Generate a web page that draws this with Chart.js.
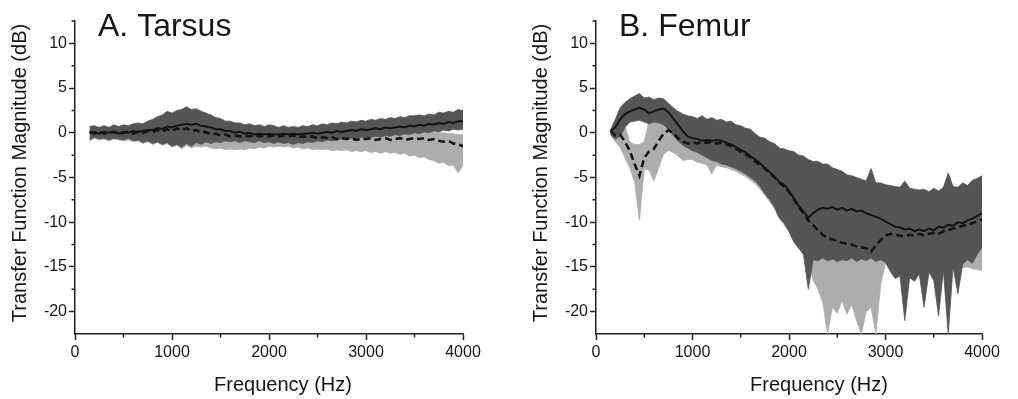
<!DOCTYPE html>
<html>
<head>
<meta charset="utf-8">
<title>Transfer function magnitude - tarsus and femur</title>
<script src="https://cdn.jsdelivr.net/npm/chart.js@4.4.1/dist/chart.umd.min.js"></script>
<style>
  html, body { margin: 0; padding: 0; background: #fff; }
  #wrap { position: relative; width: 1018px; height: 399px; overflow: hidden; }
  canvas { position: absolute; top: 0; }
  #chartTarsus { left: 0; }
  #chartFemur { left: 509px; }
</style>
</head>
<body>
<div id="wrap">
  <canvas id="chartTarsus" width="509" height="399"></canvas>
  <canvas id="chartFemur" width="509" height="399"></canvas>
</div>
<script>
Chart.defaults.font.family = "'Liberation Sans', Arial, sans-serif";
Chart.defaults.color = "#111";

const FONT = "'Liberation Sans', Arial, sans-serif";

// x grid, Hz
const freqHz = [
  150, 200, 250, 300, 350, 400, 450, 500, 550, 600,
  650, 700, 750, 800, 850, 900, 950, 1000, 1050, 1100,
  1150, 1200, 1250, 1300, 1350, 1400, 1450, 1500, 1550, 1600,
  1650, 1700, 1750, 1800, 1850, 1900, 1950, 2000, 2050, 2100,
  2150, 2200, 2250, 2300, 2350, 2400, 2450, 2500, 2550, 2600,
  2650, 2700, 2750, 2800, 2850, 2900, 2950, 3000, 3050, 3100,
  3150, 3200, 3250, 3300, 3350, 3400, 3450, 3500, 3550, 3600,
  3650, 3700, 3750, 3800, 3850, 3900, 3950, 4000
];

const xTicksHz = [0, 1000, 2000, 3000, 4000];
const xMinorHz = [500, 1500, 2500, 3500];
const yTicksDb = [-20, -15, -10, -5, 0, 5, 10];
const yMinorDb = [-17.5, -12.5, -7.5, -2.5, 2.5, 7.5, 12.5];

const panelTitles = ["A. Tarsus", "B. Femur"];
const xTitle = "Frequency (Hz)";
const yTitle = "Transfer Function Magnitude (dB)";

// ---- A. Tarsus (dB) ----
const tarsusSolid = [
  0.0, 0.1, -0.1, 0.1, 0.0, 0.1, -0.1, 0.1, 0.0, 0.2,
  0.1, 0.2, 0.3, 0.3, 0.5, 0.4, 0.7, 0.6, 0.8, 0.9,
  1.0, 0.9, 1.0, 0.8, 0.7, 0.6, 0.4, 0.4, 0.2, 0.2,
  0.0, 0.1, -0.1, 0.0, -0.2, -0.1, -0.2, -0.1, -0.2, -0.2,
  -0.1, -0.2, -0.1, -0.2, -0.1, -0.1, 0.0, -0.1, 0.0, 0.1,
  0.0, 0.2, 0.1, 0.2, 0.3, 0.2, 0.4, 0.3, 0.4, 0.5,
  0.4, 0.6, 0.5, 0.6, 0.7, 0.6, 0.8, 0.7, 0.9, 0.8,
  1.0, 0.9, 1.1, 1.0, 1.2, 1.1, 1.3, 1.3
];
const tarsusDashed = [
  0.1, -0.1, 0.1, -0.1, 0.0, 0.1, -0.1, 0.0, 0.1, -0.1,
  0.1, 0.0, 0.2, 0.1, 0.3, 0.1, 0.4, 0.2, 0.5, 0.3,
  0.5, 0.2, 0.3, 0.0, 0.1, -0.2, -0.1, -0.3, -0.2, -0.4,
  -0.3, -0.4, -0.3, -0.4, -0.3, -0.4, -0.3, -0.4, -0.3, -0.4,
  -0.3, -0.4, -0.3, -0.5, -0.4, -0.5, -0.4, -0.6, -0.5, -0.6,
  -0.5, -0.7, -0.6, -0.7, -0.6, -0.8, -0.7, -0.7, -0.6, -0.8,
  -0.7, -0.6, -0.8, -0.7, -0.6, -0.8, -0.7, -0.6, -0.7, -0.6,
  -0.8, -0.7, -0.9, -1.0, -0.9, -1.2, -1.3, -1.5
];
const tarsusDarkHi = [
  0.7, 0.8, 0.6, 0.8, 0.6, 0.9, 0.7, 0.9, 0.8, 1.0,
  1.1, 1.0, 1.3, 1.5, 1.8, 2.0, 2.4, 2.2, 2.5, 2.6,
  2.9, 2.6, 2.7, 2.4, 2.2, 2.0, 1.7, 1.6, 1.3, 1.3,
  1.1, 1.1, 0.9, 1.0, 0.8, 0.9, 0.7, 0.9, 0.8, 0.6,
  0.8, 0.6, 0.7, 0.6, 0.8, 0.7, 0.9, 0.8, 1.0, 0.9,
  1.1, 1.0, 1.2, 1.1, 1.3, 1.2, 1.4, 1.3, 1.5, 1.4,
  1.6, 1.5, 1.7, 1.6, 1.8, 1.7, 1.9, 1.9, 2.0, 1.9,
  2.1, 2.0, 2.3, 2.2, 2.4, 2.3, 2.6, 2.5
];
const tarsusDarkLo = [
  -0.8, -0.5, -0.7, -0.6, -0.8, -0.6, -0.7, -0.8, -0.6, -0.9,
  -0.8, -1.1, -0.9, -1.2, -1.0, -1.3, -1.1, -1.5, -1.3, -1.6,
  -1.2, -1.5, -1.1, -1.3, -1.0, -1.2, -1.0, -1.1, -0.9, -1.0,
  -0.9, -1.1, -0.9, -1.0, -1.1, -0.9, -1.1, -1.0, -1.2, -1.0,
  -1.2, -1.1, -1.3, -1.1, -1.2, -1.0, -1.1, -0.9, -1.0, -0.8,
  -0.9, -0.8, -0.7, -0.8, -0.6, -0.7, -0.5, -0.6, -0.5, -0.4,
  -0.5, -0.3, -0.4, -0.2, -0.3, -0.1, -0.2, 0.0, -0.1, 0.1,
  0.0, 0.2, 0.1, 0.3, 0.2, 0.4, 0.3, 0.4
];
const tarsusLightHi = [
  0.6, 0.5, 0.6, 0.5, 0.6, 0.6, 0.5, 0.6, 0.6, 0.6,
  0.7, 0.7, 0.9, 1.0, 1.2, 1.2, 1.5, 1.4, 1.6, 1.5,
  1.6, 1.4, 1.3, 1.1, 1.0, 0.8, 0.7, 0.5, 0.5, 0.4,
  0.4, 0.3, 0.3, 0.3, 0.3, 0.3, 0.3, 0.3, 0.3, 0.3,
  0.3, 0.3, 0.3, 0.2, 0.3, 0.2, 0.3, 0.2, 0.2, 0.2,
  0.2, 0.1, 0.2, 0.1, 0.2, 0.1, 0.1, 0.1, 0.2, 0.1,
  0.1, 0.2, 0.1, 0.1, 0.2, 0.1, 0.1, 0.2, 0.1, 0.2,
  0.1, 0.1, 0.0, 0.0, -0.1, -0.1, -0.2, -0.2
];
const tarsusLightLo = [
  -0.9, -0.6, -0.8, -0.7, -0.9, -0.7, -0.8, -0.9, -0.8, -1.0,
  -0.9, -1.2, -1.0, -1.3, -1.1, -1.4, -1.2, -1.6, -1.4, -1.8,
  -1.4, -1.7, -1.5, -1.6, -1.5, -1.7, -1.8, -1.7, -1.9, -1.8,
  -1.9, -1.8, -1.9, -1.7, -1.8, -1.6, -1.7, -1.5, -1.6, -1.5,
  -1.6, -1.5, -1.7, -1.6, -1.8, -1.7, -1.9, -1.8, -1.9, -1.8,
  -2.0, -1.9, -2.0, -1.9, -2.1, -2.0, -2.1, -2.0, -2.2, -2.1,
  -2.3, -2.1, -2.3, -2.2, -2.4, -2.3, -2.6, -2.5, -2.8, -2.7,
  -3.0, -3.1, -3.4, -3.3, -3.7, -3.6, -4.5, -3.6
];

// ---- B. Femur (dB) ----
const femurSolid = [
  0.2, 0.6, 1.5, 2.1, 2.4, 2.6, 2.8, 2.6, 2.2, 2.4,
  2.6, 2.7, 2.3, 1.6, 0.9, 0.2, -0.4, -0.6, -0.7, -0.9,
  -0.8, -0.9, -0.8, -0.9, -1.1, -1.3, -1.6, -1.9, -2.2, -2.6,
  -3.0, -3.4, -3.9, -4.4, -4.9, -5.5, -5.8, -6.5, -7.3, -8.2,
  -8.8, -9.5, -9.0, -8.6, -8.4, -8.5, -8.3, -8.6, -8.4, -8.7,
  -8.5, -8.8, -8.7, -9.0, -9.2, -9.4, -9.6, -9.9, -10.2, -10.5,
  -10.6, -10.8, -10.7, -11.0, -10.8, -11.0, -10.7, -10.9, -10.5, -10.6,
  -10.3, -10.4, -10.0, -10.1, -9.8, -9.6, -9.3, -9.0
];
const femurDashed = [
  0.2, -0.3, -0.2, -1.0, -2.0, -3.5, -4.8, -2.8, -2.1, -1.8,
  -0.9, -0.1, 0.3, 0.0, -0.6, -1.0, -1.2, -1.1, -1.2, -1.0,
  -1.1, -1.0, -1.2, -1.1, -1.3, -1.5, -1.8, -2.1, -2.4, -2.8,
  -3.2, -3.6, -4.0, -4.5, -5.0, -5.6, -6.0, -6.6, -7.4, -8.3,
  -9.0, -9.8, -10.3, -10.9, -11.4, -11.8, -11.9, -12.1, -12.3, -12.4,
  -12.5, -12.7, -12.8, -12.9, -13.3, -12.6, -12.0, -11.5, -11.3, -11.4,
  -11.5, -11.6, -11.4, -11.5, -11.3, -11.5, -11.3, -11.2, -11.3, -11.0,
  -10.9, -10.7, -10.6, -10.4, -10.3, -10.1, -9.9, -9.7
];
const femurDarkHi = [
  0.3, 1.5, 2.8, 3.4, 3.8, 4.1, 4.4, 3.9, 4.0, 3.7,
  3.9, 3.8, 3.3, 2.8, 2.4, 2.1, 1.9, 1.8, 1.6, 1.9,
  1.5, 1.7, 1.4, 1.5, 1.2, 1.3, 0.9, 0.8, 0.5, 0.4,
  -0.1, -0.5, -0.6, -1.0, -1.2, -1.7, -1.8, -2.0, -2.1, -2.5,
  -2.6, -3.0, -3.2, -3.2, -3.5, -3.5, -3.9, -4.1, -4.3, -4.7,
  -4.8, -5.0, -5.2, -5.4, -4.0, -5.6, -5.6, -5.8, -5.9, -6.0,
  -6.1, -5.4, -6.2, -6.3, -6.4, -6.3, -6.6, -6.2, -6.5, -6.1,
  -4.5, -6.0, -6.1, -5.6, -5.9, -5.3, -5.1, -4.8
];
const femurDarkLo = [
  -0.2, -0.7, -0.4, 0.6, 1.2, 1.3, 1.4, 1.2, 1.0, 1.2,
  1.1, 0.9, 0.4, -0.3, -0.9, -1.4, -1.7, -2.0, -2.2, -2.5,
  -2.8, -3.1, -3.2, -3.5, -3.6, -3.8, -4.0, -4.3, -4.6, -5.0,
  -5.4, -6.0, -6.8, -7.5, -8.3, -9.5, -10.1, -11.0, -12.2, -12.9,
  -13.6, -17.5, -14.2, -14.3, -14.0, -14.3, -14.1, -14.4, -14.2, -14.3,
  -14.0, -14.4, -14.1, -14.3, -14.0, -14.4, -14.2, -14.5, -15.5, -16.3,
  -16.0, -21.0, -16.2, -16.6, -15.8, -19.5, -15.6, -16.5, -20.5, -15.4,
  -22.5, -15.0, -18.0, -14.7, -14.2, -14.6, -13.6, -12.8
];
const femurLightHi = [
  0.3, 0.4, 0.6, 0.8, -1.0, -1.3, -1.3, -1.0, 1.3, 1.5,
  1.6, 1.5, 1.0, 0.5, 0.0, -0.3, -0.5, -0.4, -0.5, -0.4,
  -0.5, -0.3, -0.5, -0.4, -0.6, -0.8, -1.0, -1.3, -1.5, -1.8,
  -2.0, -2.3, -2.6, -3.0, -3.3, -3.7, -4.0, -4.4, -4.8, -5.3,
  -5.7, -6.2, -6.6, -7.0, -7.3, -7.5, -7.6, -7.8, -8.0, -8.1,
  -8.2, -8.4, -8.5, -8.6, -8.8, -8.5, -8.2, -8.0, -7.9, -8.0,
  -8.1, -8.2, -8.1, -8.2, -8.0, -8.2, -8.0, -7.9, -8.0, -7.8,
  -7.7, -7.5, -7.4, -7.2, -7.1, -6.9, -6.7, -6.5
];
const femurLightLo = [
  -0.3, -1.0, -1.6, -2.8, -3.9, -5.5, -9.8, -4.0, -4.2, -5.4,
  -3.9, -2.4, -2.0, -2.2, -2.6, -3.1, -3.0, -3.0, -3.3, -3.4,
  -3.6, -4.6, -3.6, -3.8, -3.9, -4.1, -4.3, -4.6, -4.9, -5.3,
  -5.7, -6.3, -7.0, -7.7, -8.5, -9.6, -10.3, -11.1, -12.2, -12.9,
  -13.5, -14.5, -16.5, -17.5, -19.0, -22.5, -19.5, -20.2, -18.8, -20.3,
  -19.2, -21.0, -22.5, -20.0, -19.5, -22.5, -17.0, -14.6, -15.0, -15.2,
  -15.0, -15.3, -15.0, -15.4, -15.2, -15.5, -15.3, -15.4, -15.3, -15.2,
  -15.1, -15.2, -15.0, -15.1, -15.0, -15.2, -15.3, -15.4
];

const DARK = "#555555";
const LIGHT = "#adadad";
const INK = "#151515";

function pts(values) {
  return values.map((v, i) => ({ x: freqHz[i], y: v }));
}

// draws minor ticks, the panel letter title and both axis titles
const panelDecor = {
  id: "panelDecor",
  afterDraw(chart, args, o) {
    const { ctx, chartArea: a, scales: { x, y } } = chart;
    ctx.save();
    ctx.strokeStyle = "#222";
    ctx.lineWidth = 1.5;
    ctx.beginPath();
    xMinorHz.forEach((v) => {
      const px = x.getPixelForValue(v);
      ctx.moveTo(px, a.bottom);
      ctx.lineTo(px, a.bottom + 3.5);
    });
    yMinorDb.forEach((v) => {
      const py = y.getPixelForValue(v);
      ctx.moveTo(a.left - 3.5, py);
      ctx.lineTo(a.left, py);
    });
    ctx.stroke();

    ctx.fillStyle = INK;
    ctx.font = "32px " + FONT;
    ctx.textAlign = "left";
    ctx.textBaseline = "alphabetic";
    ctx.fillText(o.title, a.left + o.titleDx, 36);

    ctx.font = "20px " + FONT;
    ctx.textAlign = "center";
    ctx.textBaseline = "middle";
    ctx.fillText(xTitle, (a.left + a.right) / 2 + o.xTitleDx, 385);

    ctx.translate(o.yTitleX, 173);
    ctx.rotate(-Math.PI / 2);
    ctx.fillText(yTitle, 0, 0);
    ctx.restore();
  }
};

function makePanel(canvasId, s, lay) {
  const canvas = document.getElementById(canvasId);
  if (!canvas) return null;

  const band = (data, color, fill, order) => ({
    data: pts(data),
    borderColor: color,
    borderWidth: 0.8,
    backgroundColor: color,
    fill: fill,
    pointRadius: 0,
    tension: 0,
    order: order
  });

  return new Chart(canvas, {
    type: "line",
    data: {
      datasets: [
        band(s.lightHi, LIGHT, false, 3),
        band(s.lightLo, LIGHT, "-1", 3),
        band(s.darkHi, DARK, false, 2),
        band(s.darkLo, DARK, "-1", 2),
        { data: pts(s.dashed), borderColor: INK, borderWidth: 2.6, borderDash: [7, 4], pointRadius: 0, fill: false, order: 1 },
        { data: pts(s.solid), borderColor: INK, borderWidth: 2, pointRadius: 0, fill: false, order: 0 }
      ]
    },
    options: {
      responsive: false,
      animation: false,
      devicePixelRatio: 1,
      layout: { padding: { top: 21, right: lay.padRight, bottom: 0, left: 0 } },
      plugins: {
        legend: { display: false },
        tooltip: { enabled: false },
        panelDecor: { title: s.title, titleDx: 23, xTitleDx: lay.xTitleDx, yTitleX: lay.yTitleX }
      },
      scales: {
        x: {
          type: "linear",
          min: 0,
          max: 4000,
          afterBuildTicks: (sc) => { sc.ticks = xTicksHz.map((v) => ({ value: v })); },
          afterFit: (sc) => { sc.height = 65; },
          ticks: { font: { size: 16 }, color: INK, padding: 3, maxRotation: 0, callback: (v) => String(v) },
          grid: { drawOnChartArea: false, tickLength: 6, tickColor: "#222", tickWidth: 1.5 },
          border: { color: "#222", width: 1.5 }
        },
        y: {
          type: "linear",
          min: -22.5,
          max: 12.5,
          afterBuildTicks: (sc) => { sc.ticks = yTicksDb.map((v) => ({ value: v })); },
          afterFit: (sc) => { sc.width = lay.yWidth; },
          ticks: { font: { size: 16 }, color: INK, padding: 2, callback: (v) => String(v) },
          grid: { drawOnChartArea: false, tickLength: 6, tickColor: "#222", tickWidth: 1.5 },
          border: { color: "#222", width: 1.5 }
        }
      }
    },
    plugins: [panelDecor]
  });
}

makePanel("chartTarsus", {
  title: panelTitles[0],
  solid: tarsusSolid, dashed: tarsusDashed,
  darkHi: tarsusDarkHi, darkLo: tarsusDarkLo,
  lightHi: tarsusLightHi, lightLo: tarsusLightLo
}, { yWidth: 75, padRight: 46, xTitleDx: 14, yTitleX: 20 });

makePanel("chartFemur", {
  title: panelTitles[1],
  solid: femurSolid, dashed: femurDashed,
  darkHi: femurDarkHi, darkLo: femurDarkLo,
  lightHi: femurLightHi, lightLo: femurLightLo
}, { yWidth: 87, padRight: 36, xTitleDx: 30, yTitleX: 32 });
</script>
</body>
</html>
